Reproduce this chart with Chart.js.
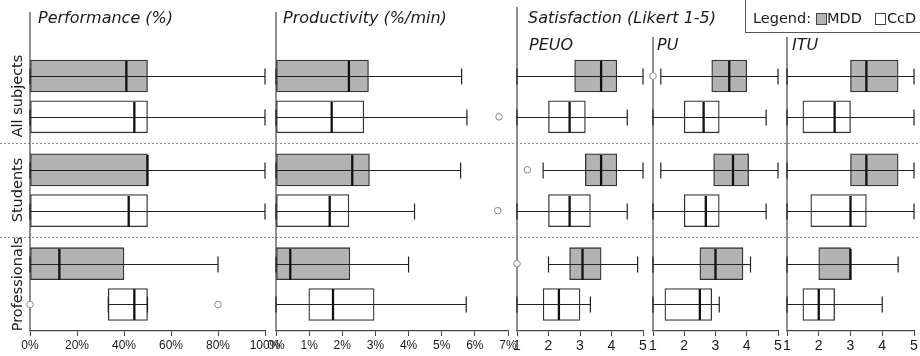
<!DOCTYPE html>
<html><head><meta charset="utf-8">
<script src="https://cdn.jsdelivr.net/npm/chart.js@4.4.1/dist/chart.umd.min.js"></script>
<style>
html,body{margin:0;padding:0;background:#fff;}
#wrap{position:relative;width:920px;height:356px;overflow:hidden;background:#fff;}
canvas{position:absolute;left:0;top:0;}
.t{position:absolute;font-family:"DejaVu Sans",sans-serif;color:#1a1a1a;white-space:nowrap;line-height:1;}
.ti{font-style:italic;font-size:16px;}
.g{font-size:14.5px;transform:translate(-50%,-50%) rotate(-90deg);}
#legend{position:absolute;left:745px;top:-3px;width:200px;height:36px;border:1px solid #555;box-sizing:border-box;font-family:"DejaVu Sans",sans-serif;font-size:14.5px;color:#1a1a1a;}
#legend span{position:absolute;top:13px;line-height:1;white-space:nowrap;}
.sq{position:absolute;top:15px;width:9px;height:10px;border:1px solid #444;}
</style></head>
<body><div id="wrap">
<canvas id="c0" width="920" height="356"></canvas>
<canvas id="c1" width="920" height="356"></canvas>
<canvas id="c2" width="920" height="356"></canvas>
<canvas id="c3" width="920" height="356"></canvas>
<canvas id="c4" width="920" height="356"></canvas>
<div class="t ti" style="left:38px;top:10px;">Performance (%)</div>
<div class="t ti" style="left:283px;top:10px;">Productivity (%/min)</div>
<div class="t ti" style="left:528px;top:10px;">Satisfaction (Likert 1-5)</div>
<div class="t ti" style="left:529px;top:37px;">PEUO</div>
<div class="t ti" style="left:657px;top:37px;">PU</div>
<div class="t ti" style="left:792px;top:37px;">ITU</div>
<div id="groupLabels"></div>
<div id="legend"><span style="left:7px;">Legend:</span><div class="sq" style="left:70px;background:#b3b3b3;"></div><span style="left:81px;">MDD</span><div class="sq" style="left:129px;background:#fff;"></div><span style="left:141px;">CcD</span></div>
</div>
<script>
// ---- data ----
const groups = ['All subjects', 'Students', 'Professionals'];
const seriesNames = ['MDD', 'CcD'];
// five-number summaries per group: [min, q1, median, q3, max]
const performanceMDD = [[0, 0, 41, 50, 100], [0, 0, 50, 50, 100], [0, 0, 12.5, 40, 80]];
const performanceCcD = [[0, 0, 44.4, 50, 100], [0, 0, 42, 50, 100], [33.3, 33.3, 44.4, 50, 50]];
const performanceOutMDD = [[], [], []];
const performanceOutCcD = [[], [], [0, 80]];
const productivityMDD = [[0, 0, 2.2, 2.79, 5.6], [0, 0, 2.3, 2.82, 5.57], [0, 0, 0.43, 2.23, 4.0]];
const productivityCcD = [[0, 0, 1.68, 2.65, 5.76], [0, 0, 1.62, 2.2, 4.18], [0, 0.99, 1.72, 2.96, 5.74]];
const productivityOutMDD = [[], [], []];
const productivityOutCcD = [[6.73], [6.69], []];
const peuoMDD = [[1, 2.83, 3.67, 4.17, 5], [1.83, 3.17, 3.67, 4.17, 5], [2, 2.67, 3.08, 3.67, 4.83]];
const peuoCcD = [[1, 2, 2.67, 3.17, 4.5], [1, 2, 2.67, 3.33, 4.5], [1, 1.83, 2.33, 3, 3.33]];
const peuoOutMDD = [[], [1.33], [1]];
const peuoOutCcD = [[], [], []];
const puMDD = [[1.25, 2.88, 3.44, 4, 5], [1.25, 2.94, 3.56, 4.06, 5], [1, 2.5, 3, 3.88, 4.12]];
const puCcD = [[1, 2, 2.62, 3.12, 4.62], [1, 2, 2.69, 3.12, 4.62], [1, 1.38, 2.5, 2.88, 3.12]];
const puOutMDD = [[1], [], []];
const puOutCcD = [[], [], []];
const ituMDD = [[1, 3, 3.5, 4.5, 5], [1, 3, 3.5, 4.5, 5], [1, 2, 3, 3, 4.5]];
const ituCcD = [[1, 1.5, 2.5, 3, 5], [1, 1.75, 3, 3.5, 5], [1, 1.5, 2, 2.5, 4]];
const ituOutMDD = [[], [], []];
const ituOutCcD = [[], [], []];
const percentTicks = [0, 20, 40, 60, 80, 100];
const productivityTicks = [0, 1, 2, 3, 4, 5, 6, 7];
const likertTicks = [1, 2, 3, 4, 5];

// ---- layout ----
const GROUP_STEP = 2.3;
const rowPos = (g, s) => g * GROUP_STEP + s;
const Y_MIN = -1.569, Y_MAX = 6.25;
const W = 920;
const seriesFill = ['#b3b3b3', '#ffffff'];

const panels = [
  {id: 'c0', left: 30, right: 265, axisTop: 12, mdd: performanceMDD, ccd: performanceCcD, outM: performanceOutMDD, outC: performanceOutCcD, ticks: percentTicks, pct: true, dashes: true},
  {id: 'c1', left: 276, right: 508, axisTop: 12, mdd: productivityMDD, ccd: productivityCcD, outM: productivityOutMDD, outC: productivityOutCcD, ticks: productivityTicks, pct: true},
  {id: 'c2', left: 517, right: 643, axisTop: 7, mdd: peuoMDD, ccd: peuoCcD, outM: peuoOutMDD, outC: peuoOutCcD, ticks: likertTicks},
  {id: 'c3', left: 653, right: 778, axisTop: 37, mdd: puMDD, ccd: puCcD, outM: puOutMDD, outC: puOutCcD, ticks: likertTicks},
  {id: 'c4', left: 787, right: 914, axisTop: 37, mdd: ituMDD, ccd: ituCcD, outM: ituOutMDD, outC: ituOutCcD, ticks: likertTicks}
];

// group labels (rotated real text)
const gl = document.getElementById('groupLabels');
groups.forEach((name, g) => {
  const d = document.createElement('div');
  d.className = 't g';
  d.textContent = name;
  const yc = 76 + 40.8 * (rowPos(g, 0) + 0.5);
  d.style.left = '17px';
  d.style.top = yc + 'px';
  gl.appendChild(d);
});

function makePlugin(p, stats) {
  return {
    id: 'boxparts_' + p.id,
    beforeDatasetsDraw(chart) {
      const ctx = chart.ctx, a = chart.chartArea, ys = chart.scales.y;
      ctx.save();
      if (p.dashes) {
        ctx.strokeStyle = '#8c8c8c'; ctx.lineWidth = 1; ctx.setLineDash([2, 2]);
        for (let g = 0; g < groups.length - 1; g++) {
          const v = (rowPos(g, 1) + rowPos(g + 1, 0)) / 2;
          const y = Math.round(ys.getPixelForValue(v)) + 0.5;
          ctx.beginPath(); ctx.moveTo(0, y); ctx.lineTo(W, y); ctx.stroke();
        }
        ctx.setLineDash([]);
      }
      ctx.strokeStyle = '#6a6a6a'; ctx.lineWidth = 1.5;
      ctx.beginPath(); ctx.moveTo(a.left, p.axisTop); ctx.lineTo(a.left, a.bottom); ctx.stroke();
      ctx.restore();
    },
    afterDatasetsDraw(chart) {
      const ctx = chart.ctx, xs = chart.scales.x, ys = chart.scales.y;
      ctx.save();
      stats.forEach(st => {
        const y = Math.round(ys.getPixelForValue(st.pos)) + 0.5;
        const [mn, , md, , mx] = st.v.map(v => xs.getPixelForValue(v));
        ctx.strokeStyle = '#222'; ctx.lineWidth = 1.2;
        ctx.beginPath(); ctx.moveTo(mn, y); ctx.lineTo(mx, y); ctx.stroke();
        ctx.beginPath(); ctx.moveTo(mn, y - 8); ctx.lineTo(mn, y + 8);
        ctx.moveTo(mx, y - 8); ctx.lineTo(mx, y + 8); ctx.stroke();
        ctx.strokeStyle = '#111'; ctx.lineWidth = 2.3;
        ctx.beginPath(); ctx.moveTo(md, y - 15.5); ctx.lineTo(md, y + 15.5); ctx.stroke();
      });
      ctx.restore();
    }
  };
}

panels.forEach(p => {
  const boxes = [], colors = [], stats = [], outliers = [];
  groups.forEach((g, gi) => {
    [p.mdd, p.ccd].forEach((arr, si) => {
      const v = arr[gi];
      const pos = rowPos(gi, si);
      boxes.push({x: [v[1], v[3]], y: pos});
      colors.push(seriesFill[si]);
      stats.push({pos, v});
      const outs = (si === 0 ? p.outM : p.outC)[gi];
      outs.forEach(o => outliers.push({x: o, y: pos}));
    });
  });
  const ticksFont = p.pct
    ? {family: '"Liberation Sans Narrow","Liberation Sans",sans-serif', size: 12}
    : {family: '"Liberation Sans Narrow","Liberation Sans",sans-serif', size: 14};
  new Chart(document.getElementById(p.id), {
    type: 'bar',
    data: {
      datasets: [
        {type: 'bar', indexAxis: 'y', data: boxes, backgroundColor: colors, borderColor: '#333', borderWidth: 1.3, borderSkipped: false, barThickness: 32, grouped: false},
        {type: 'scatter', data: outliers, pointRadius: 3.3, pointBackgroundColor: '#fff', pointBorderColor: '#8a8a8a', pointBorderWidth: 1, clip: false}
      ]
    },
    options: {
      responsive: false, animation: false, events: [],
      layout: {padding: {left: p.left, right: W - p.right, top: 12, bottom: 0}},
      plugins: {legend: {display: false}, tooltip: {enabled: false}},
      scales: {
        x: {
          type: 'linear', offset: false, min: p.ticks[0], max: p.ticks[p.ticks.length - 1],
          afterBuildTicks: s => { s.ticks = p.ticks.map(v => ({value: v})); },
          afterFit: s => { s.height = 25; },
          ticks: {padding: 2, color: '#1a1a1a', font: ticksFont, maxRotation: 0, autoSkip: false,
                  callback: v => p.pct ? v + '%' : String(v)},
          grid: {display: true, offset: false, drawOnChartArea: false, drawTicks: true, tickLength: 5, color: '#444', lineWidth: 1},
          border: {display: true, color: '#444', width: 1.3}
        },
        y: {type: 'linear', offset: false, reverse: true, min: Y_MIN, max: Y_MAX, display: false, grid: {offset: false}}
      }
    },
    plugins: [makePlugin(p, stats)]
  });
});
</script>
</body></html>
